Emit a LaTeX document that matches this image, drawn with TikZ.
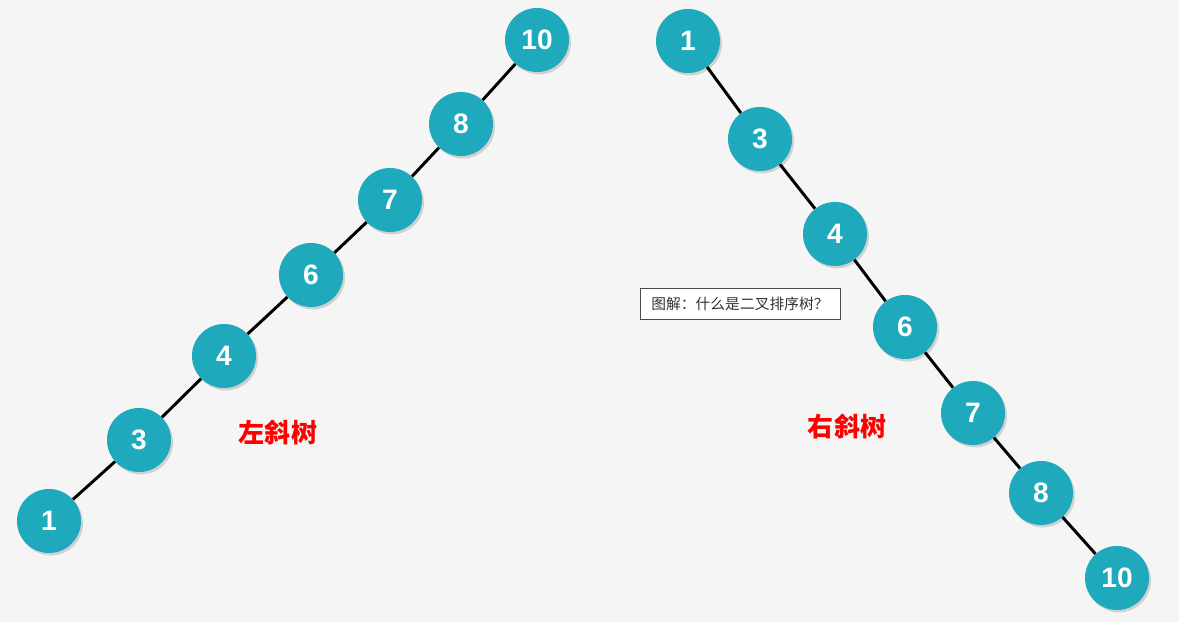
\documentclass[tikz,border=0pt]{standalone}
\usepackage{fontspec}
\setmainfont{Liberation Sans}
\newfontfamily\cjk{Noto Sans CJK SC}
\usepackage{tikz}
\usetikzlibrary{shadows}
\definecolor{nodeteal}{HTML}{1EA9BC}
\definecolor{bggray}{HTML}{F5F5F5}
\tikzstyle{tnode}=[circle,fill=nodeteal,minimum size=1.6cm,inner sep=0pt,text=white,font=\fontsize{20}{20}\selectfont\bfseries,drop shadow={shadow xshift=0.05cm,shadow yshift=-0.06cm,opacity=0.3}]
\tikzstyle{tedge}=[line width=2.1pt,draw=black]
\tikzstyle{tname}=[text=red,font=\cjk\fontsize{18.5}{18.5}\selectfont\bfseries]

\begin{document}
\begin{tikzpicture}[
    x=0.025cm,
    y=-0.025cm
    ]
    \fill[bggray] (0,0) rectangle (1179,622);
    \useasboundingbox (0,0) rectangle (1179,622);
    % left skewed tree
    \node[tnode](l1) at (49,521){1};
    \node[tnode](l3) at (139,440){3};
    \node[tnode](l4) at (224,356){4};
    \node[tnode](l6) at (311,275){6};
    \node[tnode](l7) at (390,200){7};
    \node[tnode](l8) at (461,124){8};
    \node[tnode](l10) at (537,40){10};
    % right skewed tree
    \node[tnode](r1) at (688,41){1};
    \node[tnode](r3) at (760,139){3};
    \node[tnode](r4) at (835,234){4};
    \node[tnode](r6) at (905,327){6};
    \node[tnode](r7) at (973,413){7};
    \node[tnode](r8) at (1041,493){8};
    \node[tnode](r10) at (1117,578){10};
    \path[tedge]
    (l1) edge (l3)
    (l3) edge (l4)
    (l4) edge (l6)
    (l6) edge (l7)
    (l7) edge (l8)
    (l8) edge (l10)
    (r1) edge (r3)
    (r3) edge (r4)
    (r4) edge (r6)
    (r6) edge (r7)
    (r7) edge (r8)
    (r8) edge (r10)
    ;
    \node[tname](lname) at (278,433){左斜树};
    \node[tname](rname) at (847,427){右斜树};
    \node[draw=black!70,fill=white,minimum width=200*0.025cm,minimum height=31*0.025cm,font=\cjk\fontsize{10.5}{10.5}\selectfont,text=black!80](caption) at (740,303.5){图解：什么是二叉排序树？};
\end{tikzpicture}
\end{document}
